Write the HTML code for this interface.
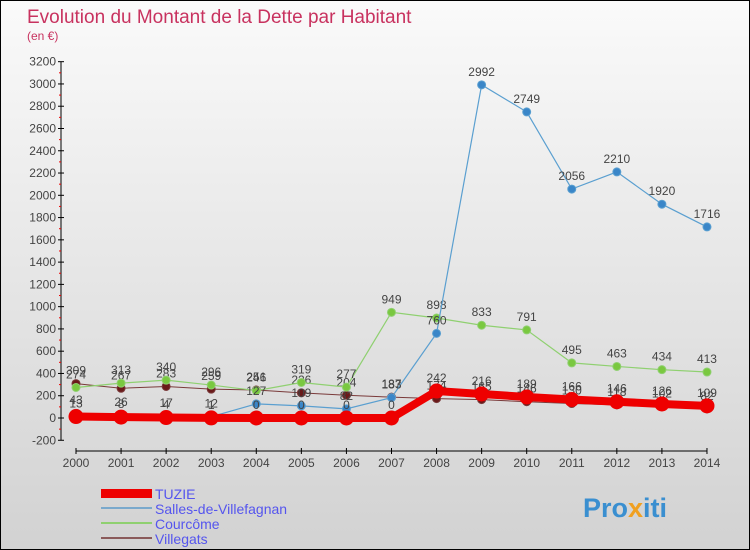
<!DOCTYPE html>
<html><head><meta charset="utf-8"><style>
body{margin:0}
#c{width:748px;height:548px;border:1px solid #000;background:linear-gradient(#fafafa,#d2d2d2);position:relative;overflow:hidden;font-family:"Liberation Sans","DejaVu Sans",sans-serif}
</style></head><body>
<div id="c">
<svg id="s" width="748" height="548" xmlns="http://www.w3.org/2000/svg" font-family="Liberation Sans, DejaVu Sans, sans-serif">
<text x="26" y="22" font-size="19" fill="#c8325f">Evolution du Montant de la Dette par Habitant</text>
<text x="26" y="39" font-size="12" fill="#c8325f">(en €)</text>
<g id="axes"></g><g id="series"></g>
<g id="legend">
<rect x="100" y="488" width="51" height="9" fill="#e00"/>
<text x="154" y="498" font-size="14" fill="#5555ee">TUZIE</text>
<rect x="100" y="506" width="51" height="2" fill="#7aa9cc"/>
<text x="154" y="513" font-size="14" fill="#5555ee">Salles-de-Villefagnan</text>
<rect x="100" y="521" width="51" height="2" fill="#8fd070"/>
<text x="154" y="528" font-size="14" fill="#5555ee">Courcôme</text>
<rect x="100" y="536" width="51" height="2" fill="#8a5a5a"/>
<text x="154" y="543" font-size="14" fill="#5555ee">Villegats</text>
</g>
<text x="582" y="516" font-size="27" font-weight="bold" fill="#3a8fd0">Pro<tspan fill="#f0a020">x</tspan>iti</text>
</svg>
</div>
<script>
const years=[2000,2001,2002,2003,2004,2005,2006,2007,2008,2009,2010,2011,2012,2013,2014];
const tuzie=[13,8,4,1,0,0,0,0,242,216,189,166,146,126,109];
const salles=[43,26,17,12,127,109,82,183,760,2992,2749,2056,2210,1920,1716];
const courcome=[274,313,340,296,246,319,277,949,898,833,791,495,463,434,413];
const villegats=[309,267,283,259,251,226,204,187,174,165,146,130,118,102,82];
const yTicks=[-200,0,200,400,600,800,1000,1200,1400,1600,1800,2000,2200,2400,2600,2800,3000,3200];
const NS="http://www.w3.org/2000/svg";
const X=i=>75+i*45.07;
const Y=v=>417-v*0.11135;
function mk(tag,attrs,parent,txt){const e=document.createElementNS(NS,tag);for(const k in attrs)e.setAttribute(k,attrs[k]);if(txt!=null)e.textContent=txt;parent.appendChild(e);return e;}
const ax=document.getElementById('axes');
let a=mk('line',{x1:60,y1:Y(3200),x2:60,y2:Y(-200),stroke:'#000'},ax);


yTicks.forEach((t,k)=>{
 mk('line',{x1:57,y1:Y(t),x2:63,y2:Y(t),stroke:'#000'},ax);
 if(k<yTicks.length-1) mk('line',{x1:58,y1:Y(t+100),x2:60,y2:Y(t+100),stroke:'#e00'},ax);
 const e=mk('text',{x:55,y:Y(t)+4,'font-size':12,'text-anchor':'end',fill:'#444'},ax,t);
 
 
});
a=mk('line',{x1:X(0),y1:450,x2:X(14),y2:450,stroke:'#000'},ax);


years.forEach((y,i)=>{
 mk('line',{x1:X(i),y1:447,x2:X(i),y2:453,stroke:'#000'},ax);
 const e=mk('text',{x:X(i),y:466,'font-size':12,'text-anchor':'middle',fill:'#444'},ax,y);
 
 
});
const sg=document.getElementById('series');
function series(vals,name,color,w,r,dot){
 const g=mk('g',{},sg);
 
 
 const p=mk('polyline',{points:vals.map((v,i)=>X(i)+','+Y(v)).join(' '),fill:'none',stroke:color,'stroke-width':w},g);
 
 
 vals.forEach((v,i)=>{
  const c=mk('circle',{cx:X(i),cy:Y(v),r:r,fill:dot,stroke:color,'stroke-width':1},g);
  
  
  const t=mk('text',{x:X(i),y:Y(v)-9,'font-size':12,'text-anchor':'middle',fill:'#444'},g,v);
  
  
 });
}
series(villegats,'villegats','#7a3a3a',1,4,'#6a1a1a');
series(courcome,'courcome','#8fd070',1.2,4,'#7ac840');
series(salles,'salles','#5a9fd0',1.2,4,'#3a86c8');
series(tuzie,'tuzie','#ee0000',8,7,'#ee0000');
</script>
</body></html>
